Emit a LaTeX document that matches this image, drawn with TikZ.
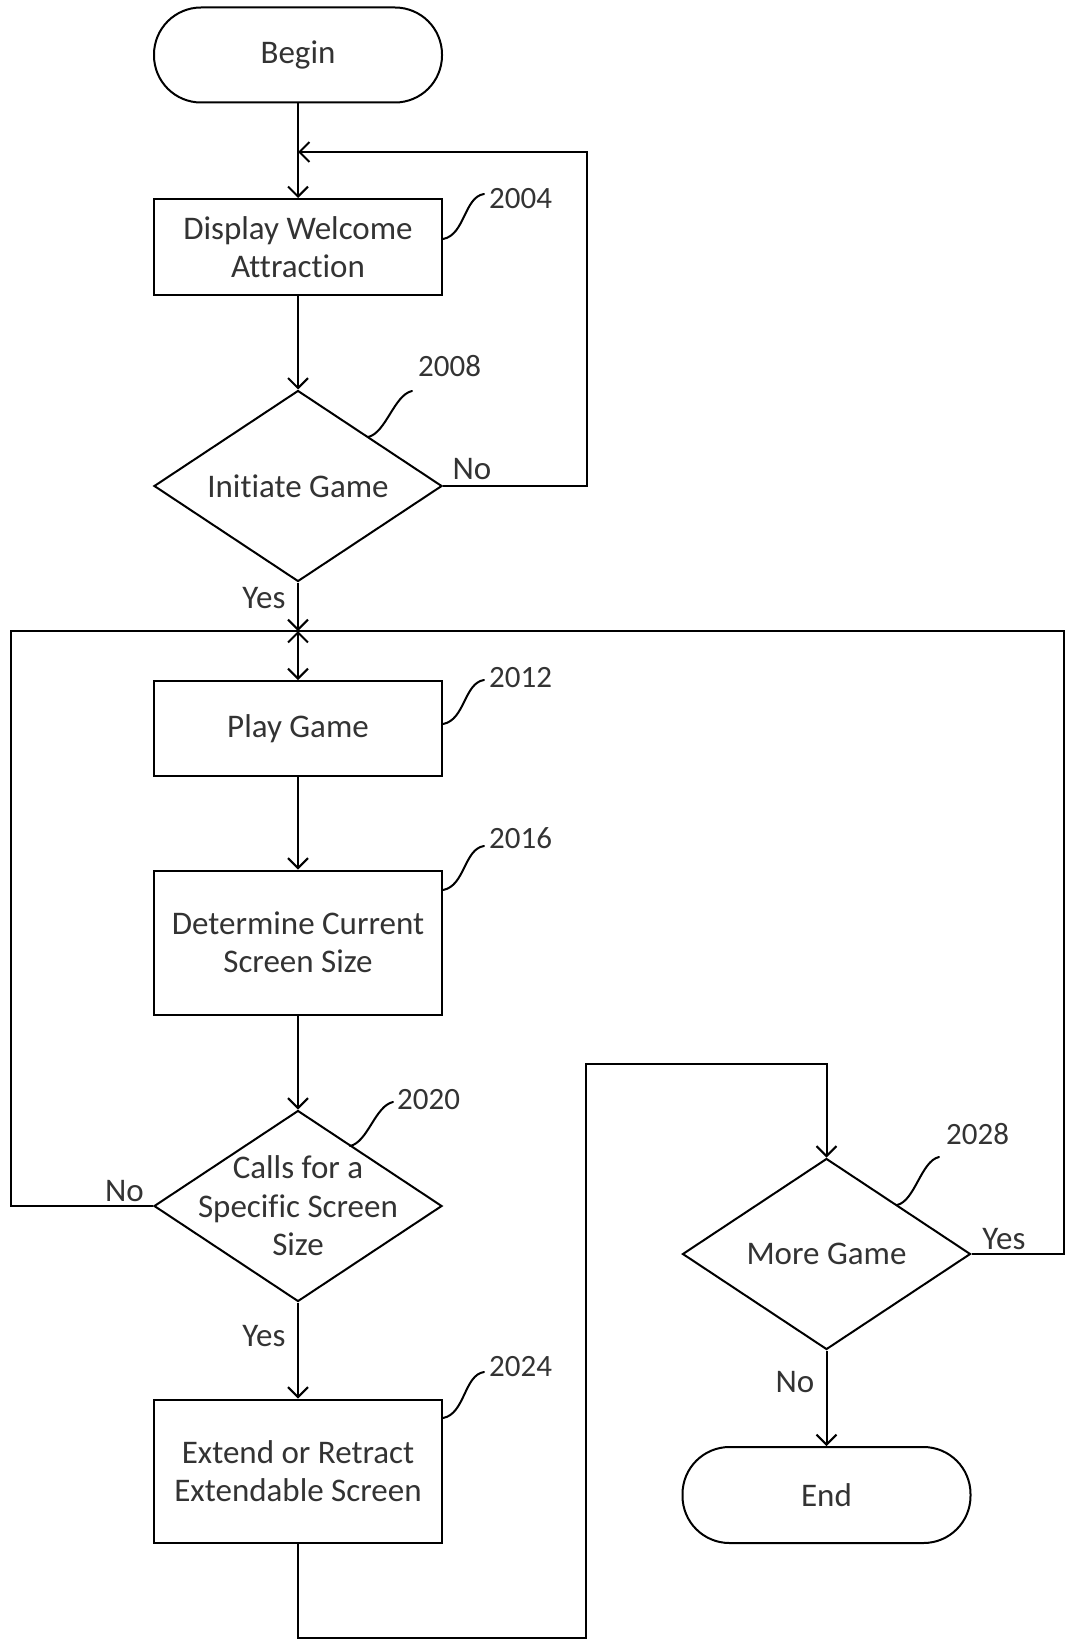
\documentclass[tikz,border=0pt]{standalone}
\usepackage{fontspec}
\setmainfont{Carlito}[Ligatures=NoCommon]
\usetikzlibrary{shapes.geometric,arrows.meta}
\definecolor{txt}{HTML}{333333}
\tikzset{
  every picture/.style={x=1pt,y=-1pt},
  base/.style={draw=black, line width=2pt, text=txt, align=center, font=\fontsize{33}{38.5}\selectfont, inner sep=0pt},
  procbox/.style={base, rectangle, minimum width=288pt},
  termbox/.style={base, rectangle, rounded corners=47pt, minimum width=288pt, minimum height=95pt},
  decbox/.style={base, diamond, minimum width=288pt, minimum height=191pt},
  dtext/.style={text=txt, align=center, font=\fontsize{33}{38.5}\selectfont, inner sep=0pt},
  lbl/.style={text=txt, font=\fontsize{33}{38}\selectfont, inner sep=0pt},
  refnum/.style={text=txt, font=\fontsize{31}{32}\selectfont, inner sep=0pt, anchor=west},
  conn/.style={line width=2pt, line join=miter},
  arr/.style={conn, -{Straight Barb[length=10pt,width=20pt,line width=2pt]}},
  arrboth/.style={conn, {Straight Barb[length=10pt,width=20pt,line width=2pt]}-{Straight Barb[length=10pt,width=20pt,line width=2pt]}},
  leader/.style={line width=2pt, line cap=round},
}
\begin{document}
\begin{tikzpicture}
\useasboundingbox (0,0) rectangle (1066,1640);

% nodes
\node[termbox] (begin) at (298,55) {Begin};
\node[procbox, minimum height=96pt] (disp) at (298,247) {Display Welcome\\Attraction};
\node[decbox] (d1) at (298,486) {};
\node[dtext] (d1t) at (d1.center) {Initiate Game};
\node[procbox, minimum height=95pt] (play) at (298,728.5) {Play Game};
\node[procbox, minimum height=144pt] (det) at (298,942.5) {Determine Current\\Screen Size};
\node[decbox] (d2) at (298,1206) {};
\node[dtext] (d2t) at (d2.center) {Calls for a\\Specific Screen\\Size};
\node[procbox, minimum height=143pt] (ext) at (298,1471) {Extend or Retract\\Extendable Screen};
\node[decbox] (d3) at (826.5,1254) {};
\node[dtext] (d3t) at (d3.center) {More Game};
\node[termbox, minimum height=96pt] (end) at (826.5,1495) {End};

% junctions
\coordinate (j1) at (298,152);
\coordinate (j2) at (298,631);
\coordinate (lft) at (10.5,631);
\coordinate (rgt) at (1064,631);
\coordinate (b1) at (586,1638);
\coordinate (t1) at (586,1064);

% connectors
\draw[arr] (begin) -- (disp);
\draw[arr] (d1.east) -- ++(144,0) |- (j1);
\draw[arr] (disp) -- (d1);
\draw[arr] (d1) -- (j2);
\draw[arrboth] (j2) -- (play);
\draw[arr] (play) -- (det);
\draw[arr] (det) -- (d2);
\draw[conn] (d2.west) -| (lft) -- (j2);
\draw[conn] (d3.east) -| (rgt) -- (j2);
\draw[arr] (d2) -- (ext);
\draw[arr] (ext.south) |- (b1) -- (t1) -| (d3.north);
\draw[arr] (d3) -- (end);

% branch labels
\node[lbl] (yes1) at (264,598) {Yes};
\node[lbl] (no1) at (472,469) {No};
\node[lbl] (no2) at (124.5,1191) {No};
\node[lbl] (yes2) at (264,1336) {Yes};
\node[lbl] (yes3) at (1004,1239) {Yes};
\node[lbl] (no3) at (795,1382) {No};

% reference numbers
\node[refnum] (r2004) at (489,199) {2004};
\node[refnum] (r2008) at (418,366) {2008};
\node[refnum] (r2012) at (489,678) {2012};
\node[refnum] (r2016) at (489,838) {2016};
\node[refnum] (r2020) at (397,1100) {2020};
\node[refnum] (r2024) at (489,1367) {2024};
\node[refnum] (r2028) at (946,1134) {2028};

% leader lines
\coordinate (e2004) at (484,194);
\coordinate (e2008) at (412,391);
\coordinate (e2012) at (484,680);
\coordinate (e2016) at (484,846);
\coordinate (e2020) at (393,1102);
\coordinate (e2024) at (484,1372);
\coordinate (e2028) at (939,1157);
\draw[leader] (disp.east |- 0,239) .. controls +(22,-4) and +(-20,3) .. (e2004);
\draw[leader] (368,437) .. controls +(18,-4) and +(-18,4) .. (e2008);
\draw[leader] (play.east |- 0,724) .. controls +(22,-4) and +(-20,3) .. (e2012);
\draw[leader] (det.east |- 0,890) .. controls +(22,-4) and +(-20,3) .. (e2016);
\draw[leader] (350,1146) .. controls +(18,-4) and +(-18,4) .. (e2020);
\draw[leader] (ext.east |- 0,1418) .. controls +(22,-4) and +(-20,3) .. (e2024);
\draw[leader] (897,1205) .. controls +(18,-4) and +(-18,4) .. (e2028);
\end{tikzpicture}
\end{document}
